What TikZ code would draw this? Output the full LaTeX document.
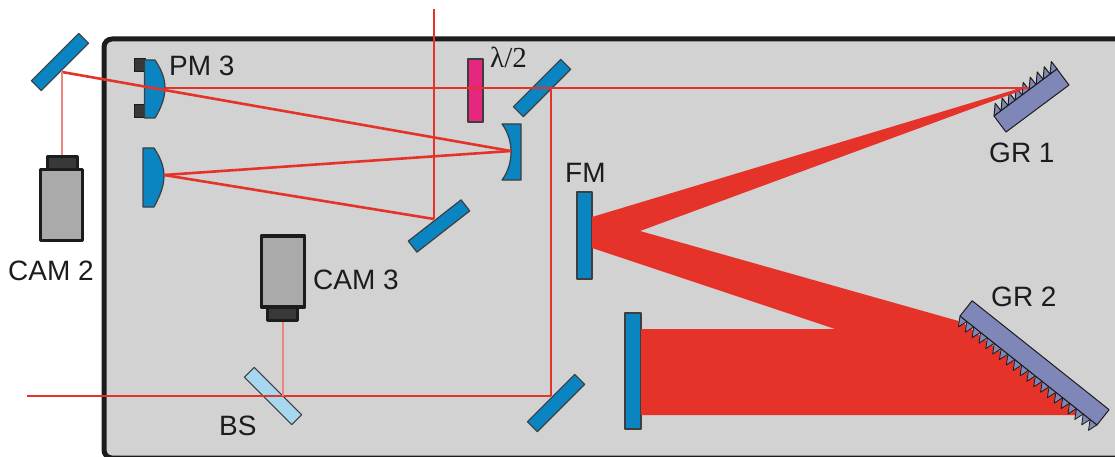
\documentclass[tikz,border=0pt]{standalone}
\usepackage{fontspec}
\setmainfont{Liberation Sans}
\newfontfamily\lambdafont{Liberation Serif}
\definecolor{boxgray}{HTML}{D2D2D2}
\definecolor{beamred}{HTML}{E5332A}
\definecolor{optblue}{HTML}{0A85C1}
\definecolor{bsblue}{HTML}{A6D7EF}
\definecolor{platepink}{HTML}{E6267F}
\definecolor{gratblue}{HTML}{7F87B8}
\definecolor{camgray}{HTML}{AAAAAA}
\definecolor{camdark}{HTML}{383838}
\definecolor{edgedark}{HTML}{1C1C1C}
\begin{document}
\begin{tikzpicture}[line join=round, x=1pt, y=-1pt]
	\tikzset{mirror/.style={draw=edgedark!85!white, line width=1.2pt, fill=optblue, inner sep=0pt, outer sep=0pt, minimum width=#1, minimum height=14pt},
		mirror/.default=67pt,
		label text/.style={font=\fontsize{28}{30}\selectfont, text=edgedark, inner sep=0pt},
		camera/.style={draw=edgedark, line width=3.4pt, fill=camgray},
		camera head/.style={draw=edgedark, line width=3.4pt, fill=camdark},
		ray/.style={draw=beamred, line width=2.6pt},
		faint ray/.style={draw=beamred!60!white, line width=1.3pt},
		lens/.style={draw=edgedark!85!white, line width=1.2pt, fill=optblue},
		grating/.style={draw=edgedark, line width=1pt, fill=gratblue}}
	\useasboundingbox (0,0) rectangle (1115,457);
	\clip (0,0) rectangle (1115,457);
	\draw[line width=5pt, draw=edgedark, fill=boxgray, rounded corners=8pt] (1135,39) -- (104,39) -- (104,458) -- (1135,458) -- cycle;
	% optics on the table
	\fill[camdark] (134,59) rectangle (145,72) (134,105) rectangle (145,118);
	\draw[edgedark, line width=1pt] (134,59) rectangle (145,72) (134,105) rectangle (145,118);
	\draw[lens] (144.5,60) -- (155,60) .. controls (161,69) and (165,78) .. (165,88) .. controls (165,98) and (161,108) .. (155,118) -- (144.5,118) -- cycle;
	\draw[lens] (143,148) -- (154,148) .. controls (160,157) and (164,166) .. (164,176) .. controls (164,186) and (160,196) .. (154,207) -- (143,207) -- cycle;
	\draw[lens] (502,124) -- (521,124) -- (521,180) -- (502,180) .. controls (508,172) and (511,162) .. (511,152) .. controls (511,142) and (508,132) .. (502,124) -- cycle;
	\node[mirror,rotate=45] (mirrorcam) at (60,62) {};
	\node[mirror,rotate=45] (mirrorfold) at (542,88) {};
	\node[mirror,rotate=45] (mirrorlow) at (556,403) {};
	\node[mirror,rotate=38] (mirrorup) at (439,226) {};
	\node[mirror,rotate=-45,fill=bsblue] (bs) at (273,396) {};
	\node[mirror=63pt,minimum height=15pt,rotate=90,fill=platepink] (plate) at (475.5,90.5) {};
	\node[mirror=87pt,minimum height=15pt,rotate=90] (fm) at (584.5,235.5) {};
	\node[mirror=116pt,minimum height=16pt,rotate=90] (bigmirror) at (633,371) {};
	% grating 1 sits under the beams
	\begin{scope}[shift={(994,116)},rotate=36.7]
		\foreach \i in {0,...,8}
			\draw[grating] ({\i*8.75},0) -- ({\i*8.75+8.5},-9.5) -- ({\i*8.75+8.75},0) -- cycle;
		\draw[grating] (0,0) rectangle (78.6,20);
	\end{scope}
	% beams
	\coordinate (pmthree) at (165,88);
	\coordinate (grone) at (1029,88);
	\coordinate (fold) at (551,88);
	\coordinate (camspot) at (62,72);
	\coordinate (camtwo) at (62,155);
	\coordinate (concave) at (511,151);
	\coordinate (lenstwo) at (164,175);
	\coordinate (upspot) at (434,219);
	\coordinate (topend) at (434,9);
	\coordinate (inend) at (27,396);
	\coordinate (corner) at (551,396);
	\coordinate (camthree) at (283,321);
	\coordinate (bsspot) at (283,396);
	\fill[beamred] (592,217) -- (1024,87) -- (1020,91) -- (640,231) -- (962,322) -- (1083,415) -- (641,415) -- (641,329) -- (835,329) -- (592,248) -- cycle;
	\draw[ray] (pmthree) -- (grone);
	\draw[ray] (camspot) -- (concave);
	\draw[ray] (lenstwo) -- (concave);
	\draw[ray] (lenstwo) -- (upspot);
	\draw[ray] (topend) -- (upspot);
	\draw[ray] (fold) -- (corner);
	\draw[ray] (inend) -- (corner);
	\draw[faint ray] (camspot) -- (camtwo);
	\draw[faint ray] (camthree) -- (bsspot);
	% grating 2
	\begin{scope}[shift={(960,316)},rotate=-38.5]
		\foreach \i in {0,...,19}
			\draw[grating,line width=.8pt] ({\i*8.75},0) -- ({\i*8.75+5.5},9.5) -- ({\i*8.75+8.75},0) -- cycle;
		\draw[grating] (0,0) rectangle (175,-19.5);
	\end{scope}
	% cameras
	\draw[camera head] (47.5,156.5) rectangle (77.5,171);
	\draw[camera] (40.5,169.5) rectangle (82.5,240.5);
	\draw[camera head] (267.5,306) rectangle (297.5,320.5);
	\draw[camera] (261.5,236) rectangle (304.5,307);
	% labels
	\node[label text,anchor=west] (pmlabel) at (169,66) {PM 3};
	\node[label text,anchor=west] (camtwolabel) at (8,271) {CAM 2};
	\node[label text,anchor=west] (camthreelabel) at (313,280) {CAM 3};
	\node[label text,anchor=west] (bslabel) at (219,426) {BS};
	\node[label text,anchor=west] (fmlabel) at (565,173) {FM};
	\node[label text,anchor=west] (gronelabel) at (989,153) {GR 1};
	\node[label text,anchor=west] (grtwolabel) at (991,297) {GR 2};
	\node[label text,anchor=west,font=\lambdafont\fontsize{29}{30}\selectfont] (platelabel) at (490,57) {λ/2};
\end{tikzpicture}
\end{document}
